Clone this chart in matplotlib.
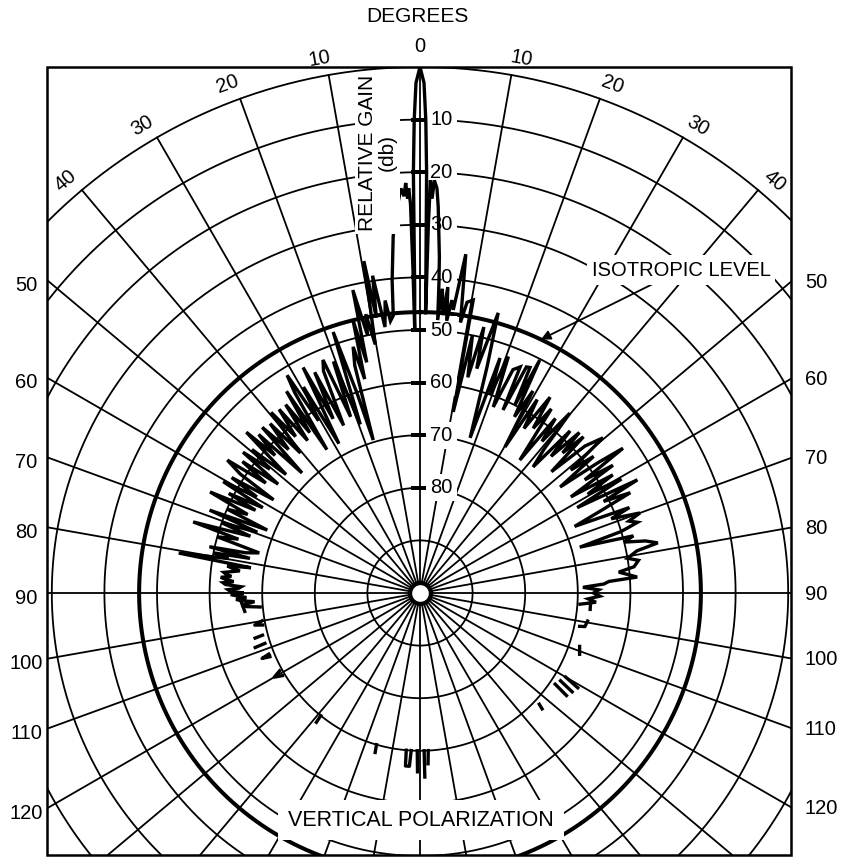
import numpy as np
import matplotlib.pyplot as plt
from matplotlib.patches import Rectangle

plt.rcParams['font.family'] = ['Liberation Sans', 'DejaVu Sans']

# picture geometry (pixels, origin top-left)
W, H = 852, 857
CX, CY = 420, 593          # pole of the pattern
R = 526                    # radius of the 0 db circle
FRAME = (47, 67, 791, 855)  # left, top, right, bottom

# grid and labels
ring_levels = [0, 10, 20, 30, 40, 50, 60, 70, 80, 90]
spoke_degrees = list(range(0, 360, 10))
gain_labels = [10, 20, 30, 40, 50, 60, 70, 80]
top_degree_labels = [10, 20, 30, 40]
side_degree_labels = [50, 60, 70, 80, 90, 100, 110, 120]
isotropic_db = 46.6

# measured pattern, forward hemisphere (degrees from boresight, db below peak)
trace_deg = [
    -95, -94.5, -94, -93, -92.5, -92, -91.5, -90.5, -90, -89.5, -89, -88.5, -88, -87.5, -87,
    -86.5, -86, -85.5, -85, -84.5, -84, -83, -82.5, -82,
    -81.5, -80.6, -79.8, -79, -78.5, -77.6, -77, -76, -74.5, -73.5, -72.6, -71.5, -70.5,
    -69.5, -68.5, -67.6, -66.5, -65.5, -64.3, -63.3, -62.5, -61.5, -60.5, -59.5, -58.5,
    -57.5, -56.5, -55.4, -54.5, -53.5, -52.5, -51.5, -50.5, -49.5, -48.5, -47.2, -46.5,
    -45.5, -44.5, -43.6, -42.5, -41.5, -40.5, -39.5, -38.5, -37.5, -36.4, -35.5, -34.5,
    -33.5, -33, -32, -31.4, -30.5, -29.5, -28.5, -27.4, -26.5, -25.5, -24.5, -23.5, -22.6,
    -21.5, -20.5, -19.5, -18.4, -17.5, -17, -16, -15.2, -14.5, -13.8, -13, -12.5, -11.5,
    -11, -10.2, -9.6, -9, -8.5, -7.5, -6.8, -6.2, -5.5, -5.1, -4.3, -3.5, -2.7, -2.3, -2.0,
    -1.8, -1.6, -1.4, -1.25, -1.15, -1.0, -0.9, -0.7, -0.45, 0, 0.45, 0.7, 0.9, 1.05, 1.15,
    1.3, 1.45, 1.75, 2.0, 2.4, 2.7, 3.3, 3.5, 3.7, 4.2, 4.7, 5.2, 5.6, 6.2, 6.7, 7.7, 8.5,
    9.2, 10.3, 10.4, 11.5, 12.5, 13.5, 14.2, 15.6, 16.5, 17.9, 18.8, 19.5, 20.5, 21.5, 22.6,
    23.9, 24.4, 25.2, 26, 26.8, 27.2, 28.2, 29.2, 30.2, 31.2, 32.3, 33.6, 34.5, 35.5, 36.9,
    37.8, 38.8, 39.8, 40.8, 41.9, 42.8, 43.8, 44.8, 45.5, 46.3, 47.3, 48.3, 49.7, 50.8,
    51.8, 52.9, 53.8, 54.5, 55.5, 56.5, 57.5, 58.5, 59.5, 60.5, 61.5, 62.5, 63.5, 64.5,
    65.5, 66.7, 67.8, 68.8, 70, 71, 72, 73, 74, 75, 76, 77, 78.1, 79, 80.5, 81.5, 83, 84,
    85.8, 86.5, 87.2, 88, 89, 90, 91, 92, 93, 94,
]
trace_db = [
    69.5, 67, 66, 68.5, 66, 65, 67, 64, 66.5, 64, 63.5, 65.5, 66, 63, 62.5,
    64.5, 63, 62, 64, 63, 62.5, 65.5, 64, 63,
    67.5, 53.5, 63, 60, 67, 59, 66, 68.5, 60, 64, 54.8, 66, 60,
    67, 57, 68.6, 60, 64, 55.7, 65, 59, 66, 57, 64, 58,
    67, 59, 55.5, 64, 58, 66, 57, 63, 58, 66, 55, 62,
    57, 68, 56.5, 63, 57, 65, 55.5, 62, 56, 64, 56, 63,
    54, 67.5, 55, 51.5, 62, 55, 67.7, 51.7, 63, 53.5, 65, 54, 52,
    64, 53, 66, 47.7, 60, 69.6, 55, 51.5, 58, 46.6, 55, 41, 50,
    46, 52, 36, 47, 39, 49, 44, 48, 47, 40.4, 32, 27, 23, 24.5, 22,
    25, 23, 26, 38, 50, 42, 20, 10, 3, 0, 3, 10, 20, 40, 47,
    30, 21.5, 25, 21.5, 23, 26.5, 36, 41, 48, 42, 47, 41.6, 48, 44, 45.8, 35, 48,
    44, 43.4, 65, 50, 58, 48, 56, 44.7, 55, 69, 52.8, 60, 52, 62, 54,
    53, 61.8, 52.5, 52.3, 60, 50.2, 62, 56, 67.9, 57, 63, 55.3, 62, 57, 68.4,
    58, 63, 55.5, 64, 67.8, 58, 64, 57, 62, 57, 66, 58, 54.4, 63,
    58, 66.6, 58, 52.6, 62, 56, 66, 57, 63, 56, 66, 53.4, 61, 55.7,
    62, 68, 57, 61, 55.5, 58, 56.5, 60, 68.4, 58, 60, 56, 53.8, 58, 60, 58, 59, 62,
    58.6, 64, 65, 69, 66, 67, 65.8, 68, 66.5, 69.5,
]

# isolated pen marks in the back hemisphere (nan separates strokes)
back_deg = [
    -93, -96, np.nan, -100, -101, -101.5, np.nan, -105, -105.3, np.nan, -108, -108.3, np.nan,
    -112, -112.5, -113, np.nan, -119, -120, -121, np.nan, -141, -141.3, np.nan, -164, -164.3,
    np.nan, -175, -175.2, -176.5, -176.8, np.nan, -179, -179.2, np.nan, 178.5, 178.5, np.nan,
    177, 177.3, np.nan, 92, 95.5, np.nan, 99.5, 101.5, 101.8, np.nan, 108.5, 111, np.nan,
    120, 121, np.nan, 122, 123, np.nan, 124, 125, np.nan, 133, 133.5,
]
back_db = [
    66, 66.5, np.nan, 69.5, 68, 69.5, np.nan, 69, 67.5, np.nan, 69, 67, np.nan,
    69, 67.5, 69, np.nan, 69.5, 68, 69.5, np.nan, 70, 68.5, np.nan, 70, 68.5,
    np.nan, 70, 67, 67, 70, np.nan, 70, 66, np.nan, 70, 65, np.nan,
    70, 67.5, np.nan, 67.5, 67.5, np.nan, 67.7, 68, 69, np.nan, 68, 67.5, np.nan,
    68, 65, np.nan, 68.5, 65.5, np.nan, 69, 66, np.nan, 69, 68,
]


def fig_xy(x, y):
    return x / W, 1 - y / H


fig = plt.figure(figsize=(W / 100, H / 100), dpi=100)
ax = fig.add_axes([(CX - R) / W, (H - CY - R) / H, 2 * R / W, 2 * R / H], projection='polar')
ax.set_theta_zero_location('N')
ax.set_theta_direction(-1)
ax.set_ylim(100, 0)
ax.grid(False)
ax.set_xticks([])
ax.set_yticks([])
ax.spines['polar'].set_visible(False)
ax.patch.set_visible(False)

# grid: db circles and 10 degree spokes
full = np.linspace(0, 2 * np.pi, 1441)
for lev in ring_levels:
    ax.plot(full, np.full_like(full, lev), color='black', lw=1.3, zorder=1)
for d in spoke_degrees:
    t = np.deg2rad(d)
    ax.plot([t, t], [100, 0], color='black', lw=1.3, zorder=1)
ax.plot(full, np.full_like(full, isotropic_db), color='black', lw=2.9, zorder=2)

# pattern
ax.plot(np.deg2rad(trace_deg), trace_db, color='black', lw=2.4, zorder=4,
        solid_joinstyle='miter')
ax.plot(np.deg2rad(back_deg), back_db, color='black', lw=2.4, zorder=4)

# clip everything in the axes to the rectangular frame
clip = Rectangle(fig_xy(FRAME[0], FRAME[3]), (FRAME[2] - FRAME[0]) / W,
                 (FRAME[3] - FRAME[1]) / H, transform=fig.transFigure)
for ln in ax.lines:
    ln.set_clip_path(clip)

# centre hole
ax.plot([0], [100], 'o', ms=15, mfc='white', mec='black', mew=3, zorder=6, clip_on=False)

# gain scale along boresight
ax.plot(np.zeros(len(gain_labels)), gain_labels, ls='none', marker='_', ms=13,
        mew=1.6, color='black', zorder=3)
for v in gain_labels:
    ax.annotate(str(v), xy=(0, v), xytext=(7.5, 0), textcoords='offset points',
                ha='left', va='center', fontsize=14.5, zorder=3,
                bbox=dict(boxstyle='square,pad=0.2', fc='white', ec='none'))

# angle labels round the 0 db circle
ax.text(0, -3.9, '0', ha='center', va='center', fontsize=14.5, clip_on=False)
for a in top_degree_labels:
    for sgn in (-1, 1):
        ax.text(np.deg2rad(sgn * (a + 0.7)), -3.4, str(a), rotation=-sgn * a,
                rotation_mode='anchor', ha='center', va='center', fontsize=14.5,
                clip_on=False)

# angle labels outside the frame
for a in side_degree_labels:
    t = np.deg2rad(a)
    yl = CY - (CX - FRAME[0]) * np.cos(t) / np.sin(t) + 5
    yr = CY - (FRAME[2] - CX) * np.cos(t) / np.sin(t) + 1
    fig.text(*fig_xy(26, yl), str(a), ha='center', va='center', fontsize=14.5)
    fig.text(*fig_xy(805, yr), str(a), ha='left', va='center', fontsize=14.5)

fig.text(*fig_xy(417, 16), 'DEGREES', ha='center', va='center', fontsize=15)
fig.text(*fig_xy(377, 153), 'RELATIVE GAIN\n(db)', ha='center', va='center', rotation=90,
         fontsize=15, linespacing=1.05, multialignment='center',
         bbox=dict(boxstyle='square,pad=0.15', fc='white', ec='none'))
fig.text(*fig_xy(421, 820), 'VERTICAL POLARIZATION', ha='center', va='center', fontsize=15.5,
         bbox=dict(boxstyle='square,pad=0.45', fc='white', ec='none'))
ax.annotate('ISOTROPIC LEVEL', xy=(np.deg2rad(25.5), isotropic_db),
            xytext=fig_xy(681, 270), textcoords='figure fraction',
            ha='center', va='center', fontsize=14.5, zorder=5,
            bbox=dict(boxstyle='square,pad=0.25', fc='white', ec='none'),
            arrowprops=dict(arrowstyle='-|>', color='black', lw=1.3, mutation_scale=14,
                            shrinkA=0, shrinkB=0))

fig.add_artist(Rectangle(fig_xy(FRAME[0], FRAME[3]), (FRAME[2] - FRAME[0]) / W,
                         (FRAME[3] - FRAME[1]) / H, transform=fig.transFigure,
                         fill=False, lw=1.8, ec='black'))

fig.savefig('out.png', dpi=100, facecolor='white')
